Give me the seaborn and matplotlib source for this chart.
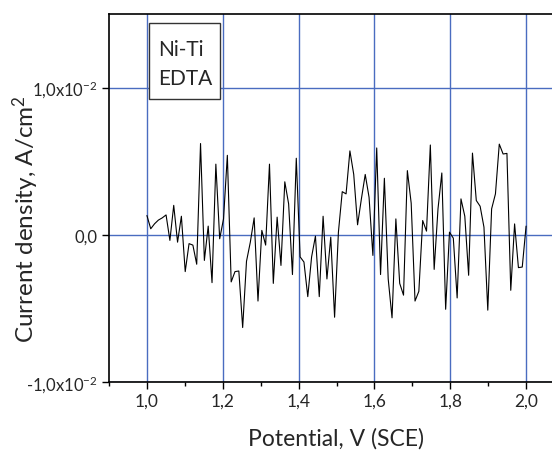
import numpy as np
import pandas as pd
import seaborn as sns
import matplotlib as mpl
from matplotlib import pyplot as plt
from matplotlib.patches import Rectangle

# Potential sweep, 100 samples from 1.0 to 2.0 V (SCE)
potential_start = 1.0
potential_stop = 2.0
n_points = 100

# Current density, in units of 1e-3 A/cm^2
current_milli = [
    1.31, 0.41, 0.75, 1.0, 1.15, 1.35, -0.38, 2.0, -0.5, 1.26,
    -2.5, -0.6, -0.7, -2.0, 6.2, -1.74, 0.59, -3.25, 4.8, -0.27,
    1.08, 5.4, -3.2, -2.5, -2.46, -6.3, -1.8, -0.5, 1.15, -4.5,
    0.3, -0.7, 4.8, -3.3, 1.2, -2.08, 3.6, 2.1, -2.7, 5.2,
    -1.5, -1.85, -4.2, -1.5, -0.09, -4.2, 1.26, -3.0, -0.16, -5.6,
    0.18, 2.93, 2.78, 5.7, 4.1, 0.68, 2.44, 4.1, 2.55, -1.4,
    5.9, -2.7, 3.84, -3.0, -5.64, 1.08, -3.3, -4.1, 4.36, 2.15,
    -4.5, -3.84, 0.97, 0.25, 6.1, -2.35, 1.76, 4.2, -5.06, 0.18,
    -0.23, -4.29, 2.44, 1.26, -2.75, 5.55, 2.33, 1.94, 0.52, -5.12,
    1.76, 2.78, 6.16, 5.49, 5.53, -3.77, 0.74, -2.23, -2.19, 0.59,
]

x_ticks = [1.0, 1.2, 1.4, 1.6, 1.8, 2.0]
x_tick_labels = ['1,0', '1,2', '1,4', '1,6', '1,8', '2,0']
y_ticks = [-0.01, 0.0, 0.01]
y_tick_labels = ['-1,0x10$^{-2}$', '0,0', '1,0x10$^{-2}$']

df = pd.DataFrame({
    'potential': np.linspace(potential_start, potential_stop, n_points),
    'current': np.array(current_milli) * 1e-3,
})

sns.set_style('ticks')
plt.rcParams['font.family'] = ['Lato', 'DejaVu Sans']
mpl.rc('mathtext', fontset='custom', rm='Lato', it='Lato:italic', bf='Lato:bold')

grid_blue = '#4a6cc0'

fig = plt.figure(figsize=(5.52, 4.56), dpi=100)
ax = fig.add_axes([109 / 552, 73 / 456, 455 / 552, 368 / 456])

# grid lines first so the trace sits on top
for xv in x_ticks:
    ax.axvline(xv, color=grid_blue, lw=1.0, zorder=1)
for yv in y_ticks:
    ax.axhline(yv, color=grid_blue, lw=1.0, zorder=1)

sns.lineplot(data=df, x='potential', y='current', ax=ax, color='black',
             lw=0.8, zorder=3, sort=False)

ax.set_xlim(0.9, 2.1)
ax.set_ylim(-0.01, 0.015)
ax.set_xticks(x_ticks)
ax.set_xticklabels(x_tick_labels, fontsize=12.5)
ax.set_xticks([0.9, 1.1, 1.3, 1.5, 1.7, 1.9, 2.1], minor=True)
ax.set_yticks(y_ticks)
ax.set_yticklabels(y_tick_labels, fontsize=12)
ax.tick_params(axis='both', which='major', direction='out', length=5, width=1,
               color='black', pad=3)
ax.tick_params(axis='both', which='minor', direction='out', length=3, width=1, color='black')

ax.set_xlabel('Potential, V (SCE)', fontsize=16.5)
ax.xaxis.set_label_coords(0.5, -0.122)
ax.set_ylabel('Current density, A/cm$^2$', fontsize=17.5)
ax.yaxis.set_label_coords(-0.15, 0.445)

for side in ['left', 'bottom', 'top']:
    ax.spines[side].set_visible(True)
    ax.spines[side].set_color('black')
    ax.spines[side].set_linewidth(1.2)
ax.spines['right'].set_visible(False)

# Sample label box
ax.add_patch(Rectangle((0.088, 0.769), 0.156, 0.206, transform=ax.transAxes,
                       facecolor='white', edgecolor='#333333', lw=1.0, zorder=4))
ax.text(0.108, 0.866, 'Ni-Ti\nEDTA', transform=ax.transAxes, fontsize=15,
        ha='left', va='center', linespacing=1.55, zorder=5)

fig.savefig('out.png', dpi=100)
